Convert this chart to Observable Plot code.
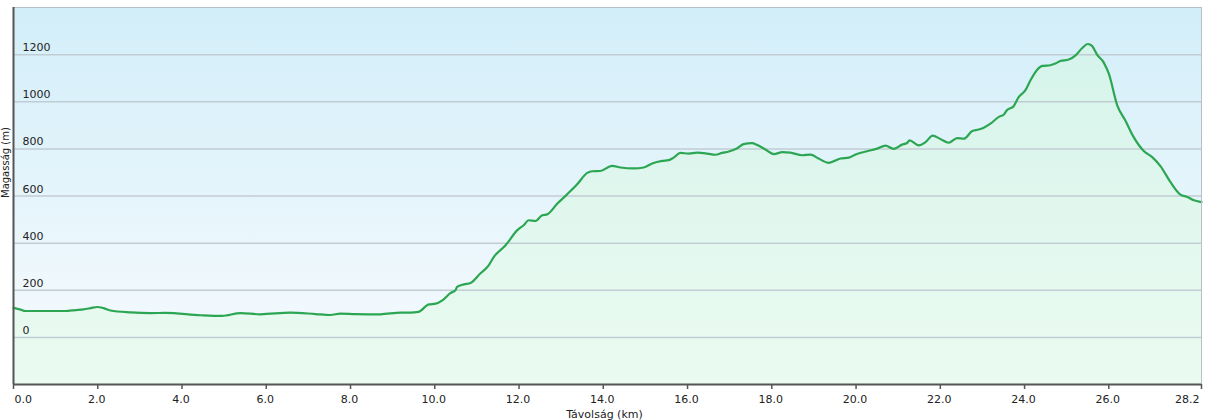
<!DOCTYPE html>
<html>
<head>
<meta charset="utf-8">
<script src="https://cdn.jsdelivr.net/npm/d3@7"></script>
<script src="https://cdn.jsdelivr.net/npm/@observablehq/plot@0.6"></script>
<style>
  html, body { margin: 0; padding: 0; background: #ffffff; }
  #chart svg { display: block; }
</style>
</head>
<body>
<div id="chart"></div>
<script>
const distanceKm = [
  0.00, 0.17, 0.28, 1.23, 1.47, 1.66, 1.83, 1.99, 2.14, 2.30, 2.78, 3.25, 3.60, 4.44, 4.95,
  5.39, 5.86, 6.57, 7.17, 7.52, 7.76, 8.12, 8.71, 9.19, 9.42, 9.61, 9.86, 10.02, 10.18, 10.37,
  10.49, 10.53, 10.69, 10.85, 11.08, 11.28, 11.40, 11.68, 11.96, 12.11, 12.23, 12.39, 12.55, 12.67, 12.91,
  13.14, 13.38, 13.62, 13.74, 13.93, 14.21, 14.41, 14.72, 14.96, 15.16, 15.40, 15.55, 15.67, 15.83, 16.03,
  16.23, 16.47, 16.66, 16.82, 16.98, 17.18, 17.33, 17.53, 17.65, 17.85, 18.05, 18.25, 18.44, 18.72, 18.92,
  19.11, 19.35, 19.63, 19.83, 19.99, 20.26, 20.50, 20.70, 20.89, 21.09, 21.21, 21.27, 21.49, 21.65, 21.82,
  22.00, 22.20, 22.40, 22.56, 22.76, 22.91, 23.03, 23.19, 23.39, 23.51, 23.58, 23.74, 23.86, 24.02, 24.14,
  24.30, 24.42, 24.61, 24.73, 24.85, 25.05, 25.21, 25.37, 25.50, 25.60, 25.72, 25.88, 26.00, 26.20, 26.39,
  26.59, 26.83, 27.03, 27.23, 27.46, 27.70, 27.86, 28.02, 28.17, 28.20
];
const elevationM = [
  125, 118, 112, 112, 116, 119, 124, 129, 124, 114, 106, 103, 104, 94, 91,
  103, 98, 105, 99, 95, 101, 99, 98, 105, 105, 108, 140, 143, 157, 188,
  200, 214, 225, 231, 271, 306, 341, 391, 455, 476, 497, 494, 518, 522, 568,
  607, 650, 698, 705, 706, 728, 721, 717, 721, 738, 749, 752, 763, 783, 780,
  784, 780, 775, 783, 789, 803, 820, 824, 817, 797, 778, 786, 784, 773, 776,
  759, 741, 759, 763, 776, 790, 801, 814, 800, 818, 825, 836, 815, 829, 856,
  842, 826, 846, 843, 876, 882, 890, 907, 936, 946, 964, 981, 1020, 1049, 1091,
  1136, 1152, 1155, 1162, 1173, 1179, 1197, 1228, 1245, 1237, 1200, 1166, 1119, 985, 921,
  850, 791, 765, 726, 660, 606, 596, 582, 575, 574
];
const yTicks = [0, 200, 400, 600, 800, 1000, 1200];
const xTicks = [0, 2, 4, 6, 8, 10, 12, 14, 16, 18, 20, 22, 24, 26, 28.2];
const xTickLabels = ["0.0", "2.0", "4.0", "6.0", "8.0", "10.0", "12.0", "14.0", "16.0", "18.0", "20.0", "22.0", "24.0", "26.0", "28.2"];
const xTitle = "Távolság (km)";
const yTitle = "Magasság (m)";

const profile = distanceKm.map((k, i) => ({km: k, elev: elevationM[i]}));
const xLabelRows = xTicks.map((t, i) => ({t, label: xTickLabels[i]}));
const firstLabel = xLabelRows.slice(0, 1);
const midLabels = xLabelRows.slice(1, -1);
const lastLabel = xLabelRows.slice(-1);

const defsMark = () => {
  const ns = "http://www.w3.org/2000/svg";
  const d = document.createElementNS(ns, "defs");
  d.innerHTML =
    '<linearGradient id="bgGrad" gradientUnits="userSpaceOnUse" x1="0" y1="7" x2="0" y2="384">' +
      '<stop offset="0" stop-color="#d2eef9"/><stop offset="0.75" stop-color="#eff8fd"/><stop offset="1" stop-color="#f3fafe"/>' +
    '</linearGradient>' +
    '<linearGradient id="areaGrad" gradientUnits="userSpaceOnUse" x1="0" y1="7" x2="0" y2="384">' +
      '<stop offset="0" stop-color="#d2f3ea"/><stop offset="0.5" stop-color="#e0f7ee"/><stop offset="1" stop-color="#ebfbf1"/>' +
    '</linearGradient>';
  return d;
};

const font = "Verdana, 'DejaVu Sans', sans-serif";

const chart = Plot.plot({
  width: 1205,
  height: 420,
  marginLeft: 13,
  marginRight: 4,
  marginTop: 7,
  marginBottom: 36,
  style: {fontFamily: font, fontSize: "11px", color: "#222", background: "#ffffff"},
  x: {domain: [0, 28.2], axis: null},
  y: {domain: [-200, 1400], axis: null},
  marks: [
    defsMark,
    Plot.frame({fill: "url(#bgGrad)", stroke: "none"}),
    Plot.areaY(profile, {x: "km", y1: -200, y2: "elev", fill: "url(#areaGrad)", curve: "monotone-x"}),
    Plot.ruleY(yTicks, {stroke: "#c2cdd3", strokeWidth: 1.5}),
    Plot.line(profile, {x: "km", y: "elev", stroke: "#2ca652", strokeWidth: 2.2, curve: "monotone-x"}),
    Plot.frame({stroke: "#b6c0c6", strokeWidth: 1}),
    Plot.text(yTicks, {x: 0, y: d => d, text: d => String(d), dx: 9, dy: -7, textAnchor: "start", fill: "#222", fontSize: 11}),
    Plot.ruleX([0], {stroke: "#555", strokeWidth: 2}),
    Plot.ruleY([-200], {stroke: "#555", strokeWidth: 2}),
    Plot.ruleX(xTicks, {x: d => d, y1: -200, y2: -200 + 5 * 1600 / 377, dy: 5, stroke: "#555", strokeWidth: 1.5}),
    Plot.text(firstLabel, {x: "t", y: -200, text: "label", dy: 15, dx: 1, textAnchor: "start", fill: "#222", fontSize: 11}),
    Plot.text(midLabels, {x: "t", y: -200, text: "label", dy: 15, dx: -1, textAnchor: "middle", fill: "#222", fontSize: 11}),
    Plot.text(lastLabel, {x: "t", y: -200, text: "label", dy: 15, dx: -2, textAnchor: "end", fill: "#222", fontSize: 11}),
    Plot.text([xTitle], {frameAnchor: "bottom", text: d => d, dy: 33, dx: -3, fill: "#222", fontSize: 11}),
    Plot.text([yTitle], {frameAnchor: "left", text: d => d, dx: -8, dy: 2, rotate: -90, fill: "#222", fontSize: 10})
  ]
});
document.getElementById("chart").appendChild(chart);
</script>
</body>
</html>
